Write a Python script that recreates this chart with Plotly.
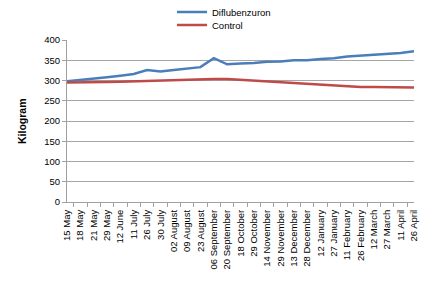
import plotly.graph_objects as go

dates = ["15 May", "18 May", "21 May", "29 May", "12 June", "11 July", "26 July",
         "30 July", "02 August", "09 August", "23 August", "06 September",
         "20 September", "18 October", "29 October", "14 November", "29 November",
         "13 December", "28 December", "12 January", "27 January", "11 February",
         "26 February", "12 March", "27 March", "11 April", "26 April"]

diflubenzuron = [298, 301, 305, 308, 312, 316, 326, 322, 326, 330, 333, 355,
                 340, 342, 343, 346, 347, 350, 350, 353, 355, 359, 361, 363,
                 366, 368, 372]

control = [295, 295, 296, 296, 297, 298, 300, 301, 301, 302, 303, 304,
           304, 302, 299, 298, 295, 293, 292, 289, 288, 286, 284, 284,
           284, 284, 283]

y_ticks = [0, 50, 100, 150, 200, 250, 300, 350, 400]

fig = go.Figure()
fig.add_trace(go.Scatter(x=dates, y=diflubenzuron, mode="lines", name="Diflubenzuron",
                         line=dict(color="#4A7EBB", width=2.5), legend="legend"))
fig.add_trace(go.Scatter(x=dates, y=control, mode="lines", name="Control",
                         line=dict(color="#BE4B48", width=2.5), legend="legend2"))

font = "Liberation Sans, Arial, sans-serif"
leg_common = dict(xref="container", yref="container", xanchor="left", yanchor="middle",
                  itemwidth=30, font=dict(size=9.5, family=font, color="#000"),
                  bgcolor="rgba(0,0,0,0)", borderwidth=0)
fig.update_layout(
    width=427, height=284,
    margin=dict(l=67, r=13, t=40, b=82, autoexpand=False),
    paper_bgcolor="white", plot_bgcolor="white",
    font=dict(family=font, size=9, color="#000000"),
    showlegend=True,
    legend=dict(x=172 / 427, y=1 - 12 / 284, **leg_common),
    legend2=dict(x=172 / 427, y=1 - 25 / 284, **leg_common),
    xaxis=dict(type="category", tickangle=-90, tickson="boundaries",
               ticks="outside", ticklen=4, tickcolor="#A0A0A0",
               showline=True, linecolor="#A0A0A0", linewidth=1, automargin=False,
               showgrid=False, ticklabelstandoff=3,
               tickfont=dict(size=9.5, family=font)),
    yaxis=dict(range=[0, 400], tickvals=y_ticks, ticks="outside", ticklen=4,
               tickcolor="#A0A0A0", showline=True, linecolor="#A0A0A0",
               linewidth=1, showgrid=True, gridcolor="#A6A6A6", gridwidth=1,
               zeroline=False, tickfont=dict(size=9.5, family=font), automargin=False),
    annotations=[dict(text="<b>Kilogram</b>", xref="paper", yref="paper",
                      x=-45 / 347, y=0.5, xanchor="center", yanchor="middle",
                      textangle=-90, showarrow=False,
                      font=dict(size=10.5, family=font, color="#000"))],
)

fig.write_html("out.html", config={"displayModeBar": False},
               post_script="document.body.style.margin='0';")
